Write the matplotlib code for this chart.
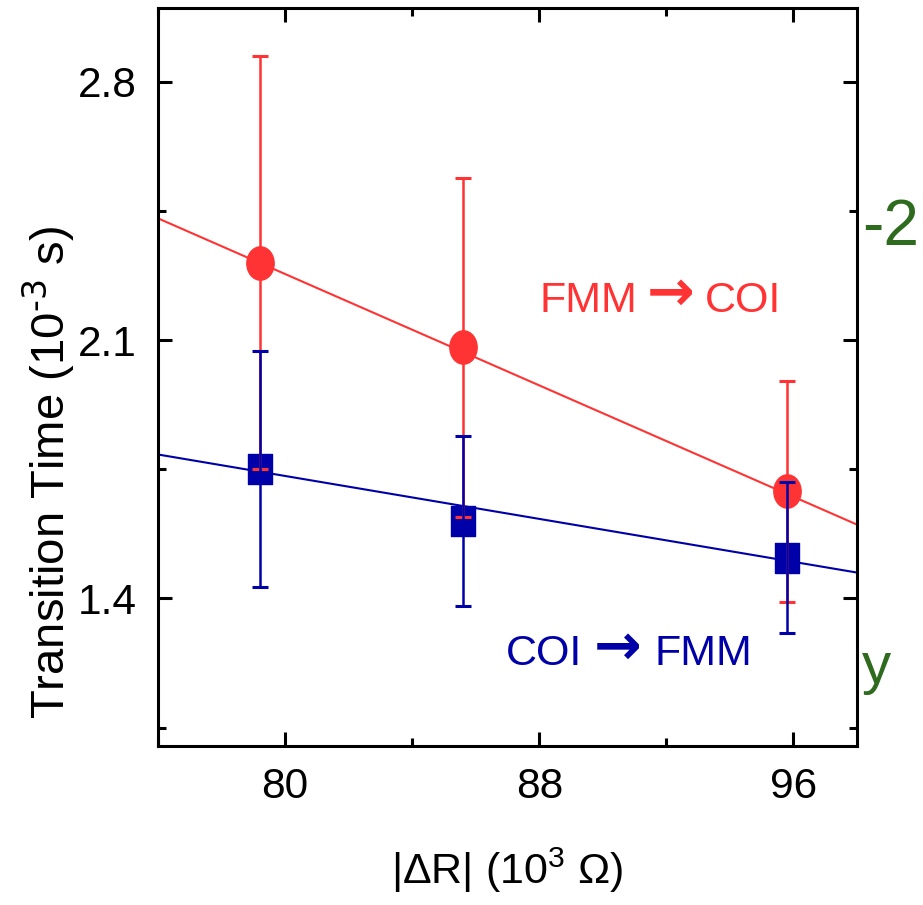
import numpy as np
import matplotlib
matplotlib.use('Agg')
import matplotlib.pyplot as plt
from matplotlib.path import Path

plt.rcParams['font.family'] = ['Liberation Sans', 'DejaVu Sans']
plt.rcParams['mathtext.default'] = 'regular'

# |dR| values (10^3 Ohm)
dr = [79.2, 85.6, 95.8]
# FMM -> COI
red_t = [2.31, 2.08, 1.69]
red_err = [0.56, 0.46, 0.30]
# COI -> FMM
blue_t = [1.75, 1.61, 1.51]
blue_err = [0.32, 0.23, 0.205]
# linear fits
fit_x = [76, 98]
red_fit = [2.43, 1.60]
blue_fit = [1.79, 1.47]

red = '#FF3333'
blue = '#0000A8'
green = '#2F6B1F'

# slightly tall markers (source picture is stretched vertically)
circ = Path.unit_circle()
ellipse = Path(circ.vertices * [1.0, 1.22], circ.codes)
rect = Path([(-1, -1.25), (1, -1.25), (1, 1.25), (-1, 1.25), (-1, -1.25)],
            [Path.MOVETO, Path.LINETO, Path.LINETO, Path.LINETO, Path.CLOSEPOLY])

fig = plt.figure(figsize=(9.23, 9.05), dpi=100)
ax = fig.add_axes([158/923, 1 - 746/905, 699/923, 738/905])

ax.plot(fit_x, red_fit, color=red, lw=1.5, zorder=2)
ax.plot(fit_x, blue_fit, color=blue, lw=1.5, zorder=2)

ax.plot(dr, red_t, ls='none', marker=ellipse, ms=24, color=red, mec=red, zorder=3)
ax.plot(dr, blue_t, ls='none', marker=rect, ms=22, color=blue, mec=blue, zorder=3)

ax.errorbar(dr, red_t, yerr=red_err, fmt='none', ecolor=red, elinewidth=1.8,
            capsize=6, capthick=2.2, zorder=4)
ax.errorbar(dr, blue_t, yerr=blue_err, fmt='none', ecolor=blue, elinewidth=1.8,
            capsize=6, capthick=2.2, zorder=4)

ax.set_xlim(76, 98)
ax.set_ylim(1.0, 3.0)
ax.set_xticks([80, 88, 96])
ax.set_xticks([76, 84, 92], minor=True)
ax.set_yticks([1.4, 2.1, 2.8])
ax.set_yticks([1.05, 1.75, 2.45], minor=True)
ax.set_xticklabels(['80', '88', '96'])
ax.set_yticklabels(['1.4', '2.1', '2.8'])

ax.tick_params(which='both', direction='in', top=True, right=True, width=2.2)
ax.tick_params(which='major', length=10, labelsize=30.5, pad=15)
ax.tick_params(which='minor', length=5.5)
for s in ax.spines.values():
    s.set_linewidth(2.2)

ax.set_xlabel(r'|ΔR| (10$^{3}$ Ω)', fontsize=31, labelpad=28)
fig.text(49/923, 1 - 472/905, r'Transition Time (10$^{\text{-3}}$ s)', rotation=90,
         fontsize=34, ha='center', va='center')

# annotations: word, arrow, word
def label(left, right, x_arrow, y_base, y_arrow, gap, color):
    fig.text((x_arrow - gap)/923, 1 - y_base/905, left, color=color, fontsize=31,
             ha='right', va='baseline')
    fig.text(x_arrow/923, 1 - y_arrow/905, '→', color=color, fontsize=41,
             family='DejaVu Sans', weight='bold', ha='center', va='baseline')
    fig.text((x_arrow + gap)/923, 1 - y_base/905, right, color=color, fontsize=31,
             ha='left', va='baseline')

label('FMM', 'COI', 671, 312, 310, 34, red)
label('COI', 'FMM', 618, 665, 664, 36, blue)

# cut-off text from the neighbouring panel
fig.text(862/923, 1 - 228/905, '-2', color=green, fontsize=46, ha='left', va='center')
fig.text(862/923, 1 - 668/905, 'y', color=green, fontsize=42, ha='left', va='center')

fig.savefig('out.png', dpi=100)
